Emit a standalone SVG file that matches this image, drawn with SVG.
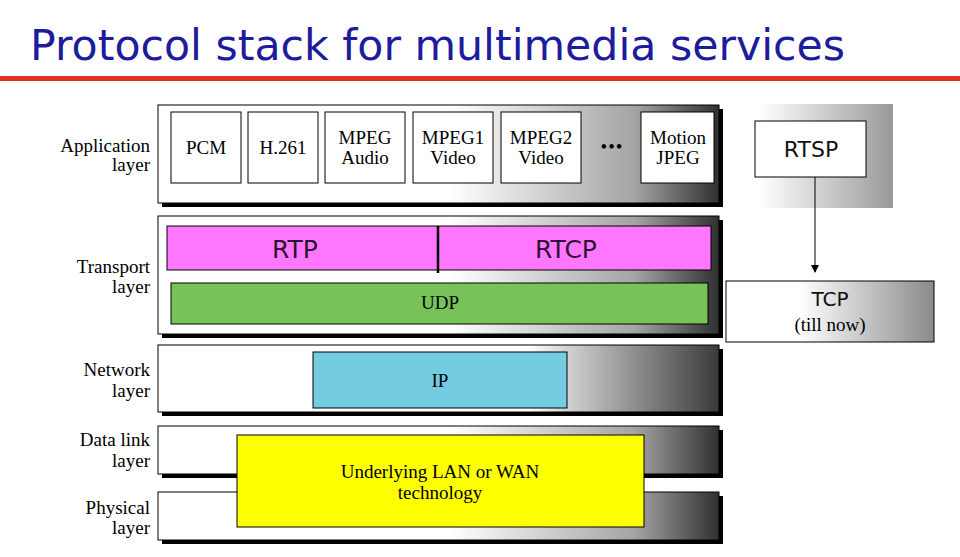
<svg xmlns="http://www.w3.org/2000/svg" width="960" height="557" viewBox="0 0 960 557">
<defs>
<linearGradient id="band" x1="0" y1="0" x2="1" y2="0">
<stop offset="0" stop-color="#ffffff"/>
<stop offset="0.52" stop-color="#ffffff"/>
<stop offset="0.85" stop-color="#a4a4a4"/>
<stop offset="1" stop-color="#303030"/>
</linearGradient>
<linearGradient id="band2" x1="0" y1="0" x2="1" y2="0">
<stop offset="0" stop-color="#ffffff"/>
<stop offset="0.66" stop-color="#ffffff"/>
<stop offset="0.74" stop-color="#cccccc"/>
<stop offset="1" stop-color="#3a3a3a"/>
</linearGradient>
<linearGradient id="side" x1="0" y1="0" x2="1" y2="0">
<stop offset="0" stop-color="#ffffff"/>
<stop offset="0.15" stop-color="#ffffff"/>
<stop offset="1" stop-color="#999999"/>
</linearGradient>
<linearGradient id="tcp" x1="0" y1="0" x2="1" y2="0">
<stop offset="0" stop-color="#ffffff"/>
<stop offset="0.35" stop-color="#ffffff"/>
<stop offset="1" stop-color="#8a8a8a"/>
</linearGradient>
<marker id="arr" markerWidth="8" markerHeight="8" refX="7" refY="4" orient="auto" markerUnits="userSpaceOnUse">
<path d="M0,0 L8,4 L0,8 Z" fill="#000"/>
</marker>
</defs>
<style>
.lbl{font-family:"Liberation Serif",serif;font-size:19px;fill:#000;text-anchor:end}
.bx{font-family:"Liberation Serif",serif;font-size:19px;fill:#000;text-anchor:middle}
.sans{font-family:"DejaVu Sans","Liberation Sans",sans-serif;text-anchor:middle}
.band{stroke:#000;stroke-width:1}
.shadow{fill:#000}
.box{fill:#fff;stroke:#000;stroke-width:1}
</style>
<rect width="960" height="557" fill="#fff"/>
<g id="title">
<text x="30" y="60" font-family="DejaVu Sans, sans-serif" font-size="42" fill="#1c1c9c" textLength="815" lengthAdjust="spacingAndGlyphs">Protocol stack for multimedia services</text>
<rect x="0" y="76" width="960" height="5" fill="#e0301e"/>
</g>
<g id="labels">
<text class="lbl" x="150" y="152">Application</text><text class="lbl" x="150" y="171">layer</text>
<text class="lbl" x="150" y="273">Transport</text><text class="lbl" x="150" y="293">layer</text>
<text class="lbl" x="150" y="376">Network</text><text class="lbl" x="150" y="397">layer</text>
<text class="lbl" x="150" y="446">Data link</text><text class="lbl" x="150" y="467">layer</text>
<text class="lbl" x="150" y="514">Physical</text><text class="lbl" x="150" y="534">layer</text>
</g>
<g id="app-layer">
<rect class="shadow" x="162" y="109" width="561" height="98"/>
<rect class="band" x="158" y="105" width="561" height="98" fill="url(#band)"/>
</g>
<g id="transport-layer">
<rect class="shadow" x="162" y="220" width="561" height="118"/>
<rect class="band" x="158" y="216" width="561" height="118" fill="url(#band)"/>
</g>
<g id="network-layer">
<rect class="shadow" x="162" y="349" width="561" height="67"/>
<rect class="band" x="158" y="345" width="561" height="67" fill="url(#band2)"/>
</g>
<g id="datalink-layer">
<rect class="shadow" x="162" y="430" width="561" height="48"/>
<rect class="band" x="158" y="426" width="561" height="48" fill="url(#band)"/>
</g>
<g id="physical-layer">
<rect class="shadow" x="162" y="496" width="561" height="48"/>
<rect class="band" x="158" y="492" width="561" height="48" fill="url(#band)"/>
</g>
<g id="pcm"><rect class="box" x="171" y="112" width="70" height="71"/><text class="bx" x="206" y="154">PCM</text></g>
<g id="h261"><rect class="box" x="248" y="112" width="70" height="71"/><text class="bx" x="283" y="154">H.261</text></g>
<g id="mpeg-audio"><rect class="box" x="325" y="112" width="80" height="71"/><text class="bx" x="365" y="144">MPEG</text><text class="bx" x="365" y="164">Audio</text></g>
<g id="mpeg1-video"><rect class="box" x="413" y="112" width="80" height="71"/><text class="bx" x="453" y="144">MPEG1</text><text class="bx" x="453" y="164">Video</text></g>
<g id="mpeg2-video"><rect class="box" x="501" y="112" width="80" height="71"/><text class="bx" x="541" y="144">MPEG2</text><text class="bx" x="541" y="164">Video</text></g>
<g id="dots"><text class="bx" x="612" y="153" font-size="20" letter-spacing="1">•••</text></g>
<g id="motion-jpeg"><rect class="box" x="641" y="112" width="73" height="71"/><text class="bx" x="678" y="144">Motion</text><text class="bx" x="678" y="164">JPEG</text></g>
<g id="rtp-rtcp">
<rect x="167" y="226" width="544" height="44" fill="#ff77ff" stroke="#000" stroke-width="1"/>
<line x1="438" y1="226" x2="438" y2="273" stroke="#000" stroke-width="2.5"/>
<text class="sans" x="295" y="258" font-size="25" fill="#301030">RTP</text>
<text class="sans" x="566" y="258" font-size="25" fill="#301030">RTCP</text>
</g>
<g id="udp"><rect x="171" y="283" width="537" height="41" fill="#77c35a" stroke="#000" stroke-width="1"/><text class="bx" x="440" y="309">UDP</text></g>
<g id="ip"><rect x="313" y="352" width="254" height="56" fill="#74cce0" stroke="#000" stroke-width="1"/><text class="bx" x="440" y="387">IP</text></g>
<g id="lan-wan"><rect x="237" y="435" width="407" height="92" fill="#ffff00" stroke="#000" stroke-width="1"/><text class="bx" x="440" y="478" font-size="20">Underlying LAN or WAN</text><text class="bx" x="440" y="499" font-size="20">technology</text></g>
<g id="rtsp">
<rect x="736" y="104" width="157" height="104" fill="url(#side)"/>
<rect class="box" x="755" y="121" width="111" height="56"/>
<text class="sans" x="811" y="157" font-size="22" fill="#111">RTSP</text>
</g>
<g id="tcp-node">
<rect x="726" y="281" width="208" height="61" fill="url(#tcp)" stroke="#000" stroke-width="1"/>
<text class="sans" x="830" y="306" font-size="20" fill="#111">TCP</text>
<text class="bx" x="830" y="331" font-size="16">(till now)</text>
</g>
<g id="connectors">
<line x1="815" y1="177" x2="815" y2="272" stroke="#000" stroke-width="1" marker-end="url(#arr)"/>
</g>
</svg>
